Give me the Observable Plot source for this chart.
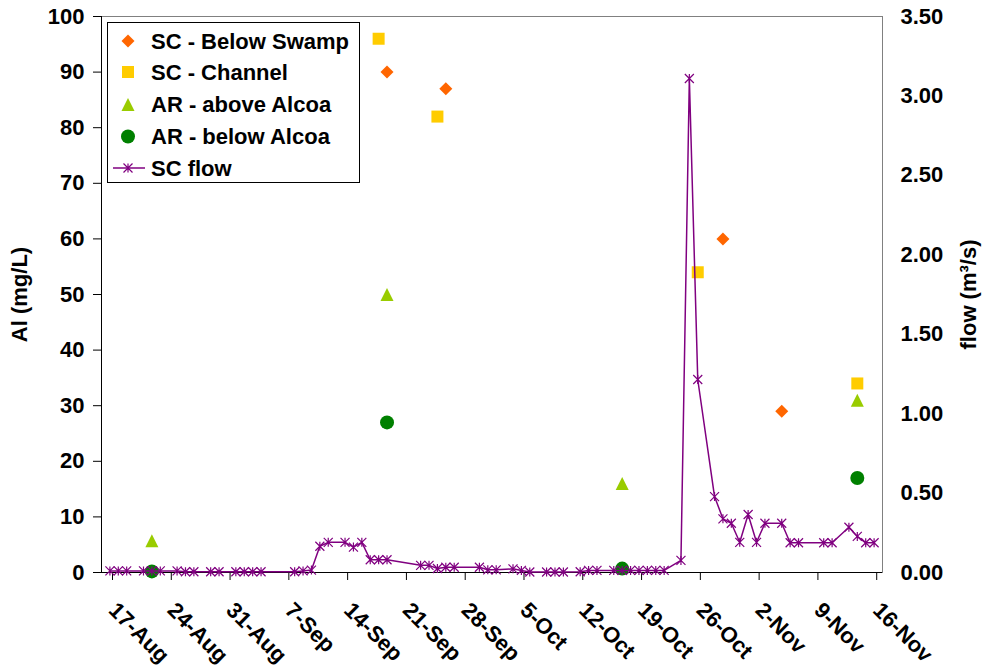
<!DOCTYPE html>
<html><head><meta charset="utf-8">
<script src="https://cdn.jsdelivr.net/npm/d3@7"></script>
<script src="https://cdn.jsdelivr.net/npm/@observablehq/plot@0.6"></script>
<style>
body{margin:0;background:#fff;}
#wrap{position:relative;width:988px;height:669px;font-family:"Liberation Sans",Arial,sans-serif;}
#legend{position:absolute;left:107px;top:22px;}
</style>
</head><body>
<div id="wrap"></div>
<script>
// ---- data ----
const monthNames = ["Jan","Feb","Mar","Apr","May","Jun","Jul","Aug","Sep","Oct","Nov","Dec"];
const xTickDates = ["2005-08-17","2005-08-24","2005-08-31","2005-09-07","2005-09-14","2005-09-21","2005-09-28","2005-10-05","2005-10-12","2005-10-19","2005-10-26","2005-11-02","2005-11-09","2005-11-16"];
const yTicksAl = [0,10,20,30,40,50,60,70,80,90,100];
const yTicksFlow = [0,0.5,1,1.5,2,2.5,3,3.5];

const belowSwampDates = ["2005-09-20","2005-09-27","2005-10-30","2005-11-06"];
const belowSwampAl = [90,87,60,29];
const channelDates = ["2005-09-19","2005-09-26","2005-10-27","2005-11-15"];
const channelAl = [96,82,54,34];
const aboveAlcoaDates = ["2005-08-23","2005-09-20","2005-10-18","2005-11-15"];
const aboveAlcoaAl = [5.7,50,16,31];
const belowAlcoaDates = ["2005-08-23","2005-09-20","2005-10-18","2005-11-15"];
const belowAlcoaAl = [0.2,27,0.7,17];

const flowDates = ["2005-08-18","2005-08-19","2005-08-20","2005-08-22","2005-08-23","2005-08-24","2005-08-26","2005-08-27","2005-08-28","2005-08-30","2005-08-31",
"2005-09-02","2005-09-03","2005-09-04","2005-09-05","2005-09-09","2005-09-10","2005-09-11","2005-09-12","2005-09-13","2005-09-15","2005-09-16","2005-09-17","2005-09-18","2005-09-19","2005-09-20","2005-09-24","2005-09-25","2005-09-26","2005-09-27","2005-09-28",
"2005-10-01","2005-10-02","2005-10-03","2005-10-05","2005-10-06","2005-10-07","2005-10-09","2005-10-10","2005-10-11","2005-10-13","2005-10-14","2005-10-15","2005-10-17","2005-10-18","2005-10-19","2005-10-20","2005-10-21","2005-10-22","2005-10-23","2005-10-25","2005-10-26","2005-10-27","2005-10-29","2005-10-30","2005-10-31",
"2005-11-01","2005-11-02","2005-11-03","2005-11-04","2005-11-06","2005-11-07","2005-11-08","2005-11-11","2005-11-12","2005-11-14","2005-11-15","2005-11-16","2005-11-17"];
const flowValues = [0.01,0.01,0.01,0.01,0.01,0.01,0.01,0.005,0.005,0.005,0.005,
0.005,0.005,0.005,0.005,0.005,0.01,0.015,0.165,0.19,0.19,0.16,0.19,0.08,0.08,0.08,0.045,0.045,0.025,0.033,0.033,
0.033,0.017,0.017,0.023,0.013,0.003,0.003,0.003,0.003,0.005,0.013,0.013,0.013,0.013,0.013,0.013,0.013,0.013,0.013,0.076,3.11,1.215,0.478,0.338,0.31,
0.19,0.365,0.19,0.31,0.31,0.187,0.187,0.187,0.187,0.285,0.227,0.187,0.187];

const flowMax = 3.5, alMax = 100;

// ---- helpers ----
const parse = s => new Date(s + "T00:00:00Z");
const fmt = d => `${d.getUTCDate()}-${monthNames[d.getUTCMonth()]}`;
const k = alMax / flowMax;
const pts = (dates, vals) => dates.map((d, i) => ({date: parse(d), v: vals[i]}));

const symDiamond = {draw(c){const r=6.5;c.moveTo(0,-r);c.lineTo(r,0);c.lineTo(0,r);c.lineTo(-r,0);c.closePath();}};
const symSquare = {draw(c){const r=6;c.moveTo(-r,-r);c.lineTo(r,-r);c.lineTo(r,r);c.lineTo(-r,r);c.closePath();}};
const symTriangle = {draw(c){const r=6.5;c.moveTo(0,-r);c.lineTo(r,r);c.lineTo(-r,r);c.closePath();}};
const symAsterisk = {draw(c){const r=4.5;c.moveTo(0,-r);c.lineTo(0,r);c.moveTo(-r,-r);c.lineTo(r,r);c.moveTo(-r,r);c.lineTo(r,-r);}};

const flow = flowDates.map((d, i) => ({date: parse(d), v: flowValues[i] * k}));

const colors = {swamp:"#FF6600", channel:"#FFCC00", above:"#99CC00", below:"#008000", flow:"#800080"};
const FONT = "22px";

const plot = Plot.plot({
  width: 988, height: 669,
  marginLeft: 101, marginRight: 106, marginTop: 16, marginBottom: 97,
  style: {fontFamily: "'Liberation Sans', Arial, sans-serif", fontSize: FONT, fontWeight: "bold", color: "#000", background: "#fff"},
  x: {type: "utc", domain: [parse("2005-08-17"), parse("2005-11-18")]},
  y: {domain: [0, alMax]},
  marks: [
    Plot.frame({stroke: "#808080"}),
    Plot.ruleX([parse("2005-08-17")], {stroke: "#000"}),
    Plot.ruleY([0], {stroke: "#000"}),
    Plot.axisY({ticks: yTicksAl, tickSize: 8, tickPadding: 9, label: "Al (mg/L)", labelAnchor: "center", labelArrow: "none", labelOffset: 90}),
    Plot.axisY({anchor: "right", ticks: yTicksFlow.map(v => v * k), tickFormat: v => (v / k).toFixed(2), tickSize: 0, tickPadding: 18, label: "flow (m³/s)", labelAnchor: "center", labelArrow: "none", labelOffset: 93}),
    Plot.axisX({ticks: xTickDates.map(parse), tickFormat: fmt, tickSize: 8, tickRotate: 45, textAnchor: "start", lineAnchor: "middle", tickPadding: 26, dx: 11, label: null}),
    Plot.dot(pts(belowAlcoaDates, belowAlcoaAl), {x: "date", y: "v", symbol: "circle", r: 7, fill: colors.below}),
    Plot.dot(pts(aboveAlcoaDates, aboveAlcoaAl), {x: "date", y: "v", symbol: symTriangle, fill: colors.above}),
    Plot.dot(pts(channelDates, channelAl), {x: "date", y: "v", symbol: symSquare, fill: colors.channel}),
    Plot.dot(pts(belowSwampDates, belowSwampAl), {x: "date", y: "v", symbol: symDiamond, fill: colors.swamp}),
    Plot.line(flow, {x: "date", y: "v", stroke: colors.flow, strokeWidth: 1.5}),
    Plot.dot(flow, {x: "date", y: "v", symbol: symAsterisk, stroke: colors.flow, strokeWidth: 1.2, fill: "none"})
  ]
});
const wrap = document.getElementById("wrap");
wrap.appendChild(plot);

// ---- legend ----
const legendItems = [
  {label: "SC - Below Swamp", sym: symDiamond, fill: colors.swamp},
  {label: "SC - Channel", sym: symSquare, fill: colors.channel},
  {label: "AR - above Alcoa", sym: symTriangle, fill: colors.above},
  {label: "AR - below Alcoa", sym: "circle", fill: colors.below},
  {label: "SC flow", sym: symAsterisk, line: true}
];
const lw = 253, lh = 161;
const ns = "http://www.w3.org/2000/svg";
const lsvg = document.createElementNS(ns, "svg");
lsvg.setAttribute("id", "legend");
lsvg.setAttribute("width", lw); lsvg.setAttribute("height", lh);
lsvg.innerHTML = `<rect x="0.5" y="0.5" width="${lw-1}" height="${lh-1}" fill="#fff" stroke="#000"/>`;
const rowY = [19, 50, 82.5, 114.5, 146];
legendItems.forEach((it, i) => {
  const cy = rowY[i];
  const g = document.createElementNS(ns, "g");
  g.setAttribute("transform", `translate(21,${cy})`);
  if (it.sym === "circle") {
    g.innerHTML = `<circle r="7" fill="${it.fill}"/>`;
  } else {
    const p = d3.path(); it.sym.draw(p, 0);
    if (it.line) {
      g.innerHTML = `<line x1="-15" x2="17" stroke="${colors.flow}" stroke-width="1.5"/><path d="${p}" fill="none" stroke="${colors.flow}" stroke-width="1.2"/>`;
    } else {
      g.innerHTML = `<path d="${p}" fill="${it.fill}"/>`;
    }
  }
  lsvg.appendChild(g);
  const t = document.createElementNS(ns, "text");
  t.setAttribute("x", 44); t.setAttribute("y", cy); t.setAttribute("dy", "0.35em");
  t.setAttribute("font-family", "'Liberation Sans', Arial, sans-serif");
  t.setAttribute("font-size", FONT); t.setAttribute("font-weight", "bold");
  t.textContent = it.label;
  lsvg.appendChild(t);
});
wrap.appendChild(lsvg);
</script>
</body></html>
